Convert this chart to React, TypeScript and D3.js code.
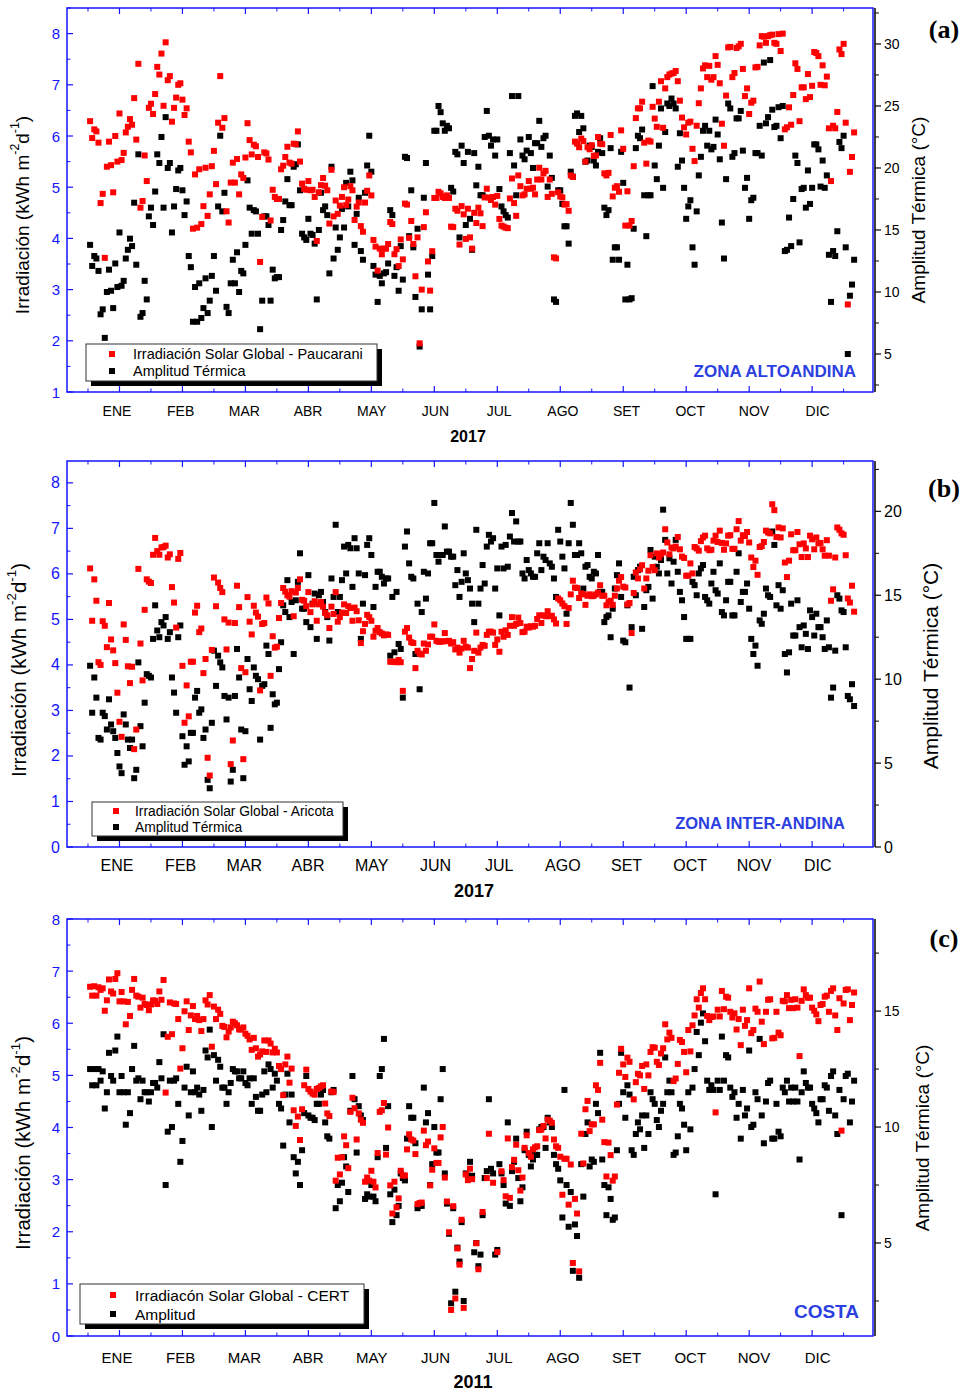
import React from 'react';
import * as d3 from 'd3';

const months = ['ENE', 'FEB', 'MAR', 'ABR', 'MAY', 'JUN', 'JUL', 'AGO', 'SET', 'OCT', 'NOV', 'DIC'];

// (a) Paucarani 2017, daily values from day 1
const irrA = [
  6.29, 5.96, 6.13, 6.09, 5.87, 4.69, 4.87, 3.62, 5.40, 5.89, 5.43, 4.90, 6.00, 5.50, 6.44,
  5.53, 5.67, 6.07, 6.18, 6.33, 6.22, 6.74, 5.93, 7.41, 4.60, 4.73, 5.62, 5.12, 6.55, 6.63,
  6.43, 6.82, 7.35, 7.20, 7.61, 6.59, 7.83, 7.09, 7.17, 6.28, 6.55, 6.75, 7.00, 7.03, 6.71,
  6.41, 6.54, 5.89, 5.68, 4.19, 5.25, 4.21, 5.35, 4.28, 4.63, 5.38, 4.44, 4.86, 5.41, 5.71,
  5.06, 6.26, 7.17, 6.16, 6.35, 4.53, 4.31, 5.09, 5.48, 5.09, 5.55, 4.86, 5.25, 5.18, 5.58,
  6.25, 5.92, 5.64, 5.83, 5.80, 5.59, 3.54, 4.42, 5.68, 5.66, 5.54, 4.35, 4.95, 4.81, 4.77,
  4.77, 5.35, 5.42, 5.59, 5.79, 5.48, 5.46, 5.85, 5.84, 6.09, 5.50, 5.07, 4.97, 4.95, 5.12,
  4.94, 4.95, 4.81, 3.95, 4.90, 5.04, 5.18, 5.03, 4.94, 4.29, 5.34, 4.43, 4.74, 4.48, 4.64,
  4.81, 5.00, 4.65, 4.76, 5.02, 4.94, 4.36, 4.62, 4.70, 4.24, 4.13, 4.70, 4.93, 5.23, 4.84,
  3.97, 3.84, 3.37, 3.80, 3.69, 3.80, 3.80, 3.89, 4.32, 4.28, 3.69, 3.79, 3.46, 3.98, 3.59,
  4.68, 4.66, 4.01, 4.34, 3.89, 3.26, 4.02, 1.95, 3.00, 4.22, 4.51, 3.55, 2.98, 3.75, 4.79,
  4.79, 4.91, 4.88, 4.81, 4.79, 4.84, 4.79, 4.23, 4.22, 4.58, 4.54, 3.88, 4.63, 4.47, 3.99,
  4.58, 4.02, 3.80, 4.50, 4.30, 4.60, 4.49, 4.24, 4.80, 4.97, 4.80, 4.75, 4.81, 4.66, 4.83,
  4.38, 4.25, 4.23, 4.21, 4.20, 4.78, 5.17, 4.69, 4.44, 5.23, 5.02, 4.84, 4.86, 4.97, 5.12,
  4.97, 4.99, 4.86, 5.15, 5.38, 5.15, 5.27, 5.32, 4.81, 5.15, 4.87, 3.63, 3.61, 4.90, 4.82,
  4.80, 4.66, 4.67, 4.54, 5.23, 5.20, 5.89, 5.85, 5.78, 5.95, 5.90, 5.50, 5.78, 5.74, 5.82,
  5.61, 5.62, 5.98, 5.85, 5.84, 5.27, 5.23, 5.28, 6.02, 4.82, 4.99, 5.02, 4.91, 6.11, 5.75,
  4.25, 4.92, 4.25, 4.34, 5.41, 6.35, 6.54, 6.54, 6.67, 5.87, 5.46, 5.91, 5.89, 6.57, 6.34,
  6.18, 6.67, 7.07, 6.16, 6.93, 7.15, 7.20, 7.22, 7.23, 7.27, 7.07, 6.69, 6.36, 6.17, 6.03,
  6.26, 6.28, 5.75, 5.51, 6.20, 6.64, 6.93, 7.32, 7.38, 7.15, 7.37, 7.10, 7.15, 7.56, 7.39,
  7.03, 6.24, 5.81, 6.79, 7.73, 7.74, 7.15, 7.23, 7.72, 7.75, 7.80, 7.31, 6.78, 6.93, 6.43,
  6.65, 6.69, 7.34, 7.35, 7.77, 7.95, 7.94, 7.82, 7.95, 7.97, 7.98, 7.82, 7.80, 7.99, 7.66,
  8.00, 6.13, 6.17, 6.56, 6.22, 6.80, 7.42, 7.31, 6.29, 6.95, 6.95, 6.72, 7.21, 6.76, 6.98,
  7.64, 7.62, 7.56, 7.00, 7.38, 6.99, 7.16, 6.15, 5.12, 6.20, 6.15, 6.47, 7.69, 7.60, 7.80,
  6.26, 2.71, 5.30, 5.59, 6.07,
];
const ampA = [
  13.8, 12.1, 12.9, 12.7, 11.7, 8.2, 8.6, 6.3, 10.0, 11.8, 10.1, 8.7, 12.3, 10.4, 14.8,
  10.5, 10.9, 12.7, 13.4, 14.3, 13.7, 17.2, 12.2, 21.1, 8.0, 8.3, 10.9, 9.4, 16.1, 16.8,
  15.4, 18.1, 21.1, 20.4, 22.5, 16.8, 24.1, 20.0, 20.4, 14.8, 16.9, 18.3, 19.8, 20.0, 18.2,
  16.2, 17.3, 12.9, 12.0, 7.6, 10.4, 7.6, 10.7, 7.9, 8.7, 11.1, 8.3, 9.3, 11.3, 12.9,
  10.1, 16.9, 22.6, 16.5, 18.0, 8.8, 8.3, 10.7, 12.6, 10.7, 13.2, 10.0, 11.7, 11.5, 13.8,
  19.0, 16.8, 14.7, 16.6, 16.5, 14.7, 7.0, 9.3, 16.1, 16.1, 15.4, 9.3, 11.8, 11.1, 11.2,
  11.2, 15.0, 15.8, 17.3, 19.1, 17.0, 17.0, 20.1, 20.3, 21.9, 18.2, 14.7, 14.4, 14.2, 15.9,
  14.7, 14.6, 13.9, 9.4, 15.0, 18.0, 16.6, 16.9, 16.2, 11.5, 20.1, 12.7, 15.2, 13.4, 14.4,
  16.7, 15.2, 18.8, 16.9, 19.7, 19.0, 13.8, 16.3, 17.6, 13.3, 12.6, 18.0, 20.2, 22.6, 19.7,
  12.1, 11.4, 9.2, 11.3, 10.7, 11.5, 11.6, 12.3, 16.6, 16.2, 11.3, 12.0, 10.1, 13.7, 11.0,
  20.9, 20.8, 14.5, 18.2, 13.6, 9.6, 15.1, 5.6, 8.6, 17.6, 20.4, 11.4, 8.6, 12.9, 23.0,
  23.0, 25.0, 24.5, 23.6, 23.0, 23.4, 23.2, 18.4, 18.1, 21.3, 21.1, 14.4, 21.8, 20.4, 15.4,
  21.3, 15.9, 13.4, 21.2, 18.6, 20.1, 17.8, 17.8, 22.5, 24.6, 22.6, 21.8, 22.3, 21.0, 22.3,
  18.3, 16.9, 16.5, 16.2, 16.0, 21.2, 25.8, 20.2, 17.8, 25.8, 22.3, 21.0, 20.7, 21.4, 22.5,
  21.2, 20.0, 22.0, 22.0, 23.8, 21.7, 22.4, 22.6, 18.5, 21.0, 19.2, 9.4, 9.2, 18.2, 18.2,
  17.1, 15.3, 15.3, 13.9, 19.7, 19.3, 24.2, 24.4, 22.9, 24.2, 23.2, 20.5, 20.6, 21.8, 21.7,
  20.6, 20.2, 21.3, 22.4, 21.2, 16.8, 16.2, 16.6, 21.6, 12.6, 13.6, 13.6, 12.6, 21.3, 18.8,
  9.4, 12.2, 9.4, 9.5, 15.1, 21.6, 22.6, 22.4, 23.1, 17.8, 14.5, 17.8, 17.8, 26.6, 20.2,
  19.1, 21.8, 24.8, 18.4, 22.9, 25.2, 25.0, 25.6, 25.2, 24.8, 20.1, 22.8, 20.6, 18.4, 15.9,
  16.9, 17.4, 13.6, 12.2, 16.5, 19.4, 20.9, 23.0, 23.4, 21.8, 23.0, 21.5, 21.7, 23.9, 22.7,
  20.7, 15.6, 12.7, 19.1, 25.2, 24.8, 20.9, 21.2, 24.0, 24.0, 24.6, 21.4, 18.4, 19.2, 15.9,
  17.4, 17.6, 21.2, 21.2, 23.4, 21.0, 28.5, 23.6, 24.1, 28.7, 24.7, 23.3, 23.4, 24.9, 22.4,
  25.0, 13.3, 13.4, 16.0, 13.7, 17.5, 21.0, 20.4, 14.0, 18.3, 18.4, 16.8, 19.8, 17.1, 18.4,
  21.9, 21.9, 21.5, 18.5, 20.6, 18.4, 19.4, 13.0, 9.2, 13.3, 12.9, 14.9, 22.1, 21.6, 22.6,
  13.6, 5.0, 9.7, 10.6, 12.6,
];

// (b) Aricota 2017
const irrB = [
  6.12, 4.97, 5.88, 5.41, 4.06, 4.00, 4.96, 4.86, 4.39, 5.36, 4.56, 4.32, 4.04, 3.39, 2.75,
  2.42, 4.89, 4.55, 3.97, 3.60, 3.96, 2.15, 2.58, 6.11, 4.47, 3.66, 5.21, 5.88, 5.83, 5.80,
  6.42, 6.79, 6.50, 6.42, 6.58, 6.59, 6.62, 6.36, 6.43, 5.71, 5.37, 4.82, 6.33, 6.46, 3.98,
  2.73, 3.55, 2.87, 4.07, 4.07, 5.15, 5.30, 4.72, 4.80, 3.82, 4.13, 1.96, 1.57, 4.33, 5.92,
  5.29, 5.81, 5.69, 5.60, 5.00, 4.34, 4.93, 1.82, 2.34, 4.92, 5.74, 5.27, 3.93, 1.93, 3.84,
  5.49, 4.95, 4.67, 5.30, 5.15, 5.06, 3.44, 4.90, 4.92, 5.48, 5.35, 3.76, 4.63, 4.38, 4.40,
  5.03, 5.36, 5.69, 5.61, 5.53, 5.50, 5.62, 5.07, 5.59, 5.69, 5.88, 5.43, 5.41, 5.29, 5.60,
  5.16, 5.33, 5.40, 4.97, 5.33, 5.38, 5.28, 5.14, 5.09, 4.81, 5.28, 5.12, 5.60, 4.95, 5.05,
  5.15, 5.33, 5.14, 5.29, 5.25, 4.97, 5.26, 5.18, 4.98, 4.48, 4.74, 4.90, 5.10, 5.05, 4.97,
  4.62, 4.75, 4.81, 4.72, 4.69, 4.65, 4.67, 4.66, 4.07, 4.07, 4.07, 4.06, 4.11, 4.06, 3.43,
  4.73, 4.81, 4.60, 4.50, 4.48, 3.93, 4.31, 4.25, 4.23, 4.47, 4.31, 4.45, 4.62, 4.62, 4.89,
  4.53, 4.51, 4.51, 4.52, 4.70, 4.52, 4.53, 4.47, 4.50, 4.34, 4.38, 4.27, 4.36, 4.53, 4.40,
  4.38, 3.93, 4.13, 4.31, 4.71, 4.27, 4.38, 4.44, 4.42, 4.66, 4.73, 4.73, 4.71, 4.44, 4.56,
  4.29, 4.73, 4.62, 4.76, 4.66, 4.86, 5.05, 4.86, 4.90, 5.04, 4.92, 4.72, 4.73, 4.84, 4.82,
  4.85, 4.84, 4.86, 5.01, 5.09, 4.92, 5.09, 5.07, 5.18, 5.07, 5.08, 5.00, 4.91, 5.46, 5.42,
  5.35, 5.29, 4.90, 5.25, 5.55, 5.85, 5.70, 5.69, 5.47, 5.57, 5.55, 5.32, 5.52, 5.55, 5.51,
  5.52, 5.55, 5.59, 5.75, 5.52, 5.52, 5.31, 5.38, 5.41, 5.32, 5.52, 5.68, 5.85, 5.93, 5.72,
  5.70, 5.33, 5.36, 4.70, 5.58, 6.03, 5.90, 6.10, 6.19, 5.68, 5.90, 6.07, 6.41, 6.15, 6.08,
  6.45, 6.36, 6.43, 6.47, 6.98, 6.69, 6.43, 6.58, 6.56, 6.60, 6.81, 6.54, 6.38, 6.35, 5.96,
  5.96, 6.23, 6.01, 6.59, 6.56, 6.51, 6.72, 6.80, 6.84, 6.56, 6.52, 6.53, 6.73, 6.84, 6.70,
  6.95, 6.68, 6.53, 6.67, 6.84, 6.85, 6.55, 6.55, 6.98, 7.16, 6.73, 6.85, 6.83, 6.92, 6.69,
  6.36, 6.15, 6.29, 5.98, 6.59, 6.61, 6.70, 6.95, 6.91, 6.89, 7.53, 7.40, 6.81, 7.02, 6.80,
  7.00, 6.25, 5.93, 6.29, 6.87, 6.52, 6.52, 6.92, 6.65, 6.37, 6.67, 6.56, 6.37, 6.84, 6.76,
  6.54, 6.80, 6.67, 6.68, 6.54, 6.40, 6.74, 6.40, 5.41, 5.66, 6.36, 7.02, 6.97, 6.89, 6.86,
  6.41, 5.46, 5.37, 5.74, 5.17,
];
const ampB = [
  10.8, 8.0, 10.1, 8.9, 6.5, 6.4, 8.0, 7.8, 7.0, 8.8, 7.3, 6.9, 6.5, 5.6, 4.8,
  4.4, 7.9, 7.3, 6.4, 5.9, 6.4, 4.1, 4.6, 11.0, 7.2, 6.0, 8.6, 10.3, 10.2, 10.1,
  12.4, 14.4, 12.9, 12.5, 13.4, 13.2, 13.7, 12.4, 12.8, 10.1, 9.2, 8.0, 12.5, 13.2, 6.6,
  4.9, 6.0, 5.1, 6.8, 6.8, 8.9, 9.3, 8.0, 8.2, 6.5, 7.0, 4.0, 3.5, 7.4, 11.7,
  9.6, 11.4, 11.0, 10.7, 9.0, 7.6, 8.9, 3.9, 4.6, 9.0, 11.8, 10.1, 7.0, 4.1, 6.9,
  11.2, 9.4, 8.7, 10.7, 10.2, 10.0, 6.4, 9.6, 9.7, 12.0, 11.5, 7.1, 9.1, 8.5, 8.6,
  10.6, 12.2, 14.4, 14.0, 15.9, 13.7, 14.6, 11.5, 14.7, 15.8, 17.5, 14.2, 14.2, 13.4, 16.2,
  13.1, 14.5, 15.1, 12.4, 15.0, 15.2, 14.6, 14.0, 13.7, 12.3, 16.0, 14.9, 19.2, 14.0, 14.9,
  15.9, 17.9, 16.3, 18.0, 17.8, 15.5, 18.4, 17.8, 16.3, 12.4, 14.5, 16.2, 18.0, 18.4, 17.4,
  14.3, 15.5, 16.4, 16.4, 16.1, 15.7, 16.0, 16.0, 11.4, 14.9, 11.6, 15.2, 12.1, 11.8, 8.9,
  17.9, 18.8, 16.9, 16.1, 16.0, 11.5, 14.5, 9.4, 14.0, 16.4, 14.8, 16.3, 18.1, 18.1, 20.5,
  17.4, 17.0, 17.4, 17.4, 19.1, 17.6, 17.6, 17.3, 17.3, 15.6, 16.5, 14.9, 15.8, 17.5, 16.3,
  15.9, 15.4, 14.5, 13.4, 18.9, 14.5, 15.4, 16.8, 15.7, 17.9, 18.6, 18.2, 18.4, 15.4, 16.6,
  13.8, 17.9, 16.6, 18.0, 16.7, 18.5, 19.9, 18.2, 19.4, 18.2, 18.2, 16.3, 16.0, 17.1, 16.5,
  16.3, 16.1, 16.1, 17.5, 18.1, 16.5, 17.3, 17.1, 18.1, 16.9, 16.7, 16.0, 14.9, 18.9, 18.2,
  17.3, 16.6, 13.9, 18.1, 20.5, 19.2, 17.4, 17.4, 18.1, 17.5, 15.4, 16.7, 16.8, 16.1, 16.0,
  16.4, 16.3, 17.4, 15.2, 15.2, 13.4, 13.7, 13.8, 12.5, 14.2, 15.4, 16.2, 16.9, 14.9, 12.3,
  12.2, 14.4, 9.5, 13.1, 16.1, 15.0, 16.5, 16.7, 13.0, 14.3, 15.3, 15.5, 17.7, 14.8, 17.3,
  16.7, 16.3, 17.1, 20.1, 18.3, 16.3, 17.2, 15.7, 17.0, 18.3, 16.4, 15.2, 14.7, 13.7, 12.4,
  12.4, 12.4, 15.8, 15.6, 15.0, 16.3, 16.6, 16.8, 14.9, 14.7, 14.5, 15.7, 16.4, 15.3, 15.1,
  16.9, 14.0, 13.8, 14.7, 15.8, 15.8, 13.8, 13.8, 16.4, 17.5, 14.6, 15.2, 15.2, 15.7, 14.2,
  12.4, 11.5, 12.0, 10.8, 13.5, 13.3, 13.9, 15.4, 15.0, 14.9, 18.8, 18.0, 14.4, 15.6, 14.2,
  15.3, 11.5, 10.4, 11.6, 14.5, 12.6, 12.6, 14.7, 13.1, 11.9, 13.2, 12.7, 11.8, 14.1, 13.7,
  12.6, 13.9, 13.1, 13.1, 12.5, 11.8, 13.5, 11.9, 8.9, 9.5, 11.7, 15.0, 14.8, 14.1, 14.0,
  11.9, 9.0, 8.8, 9.7, 8.4,
];

// (c) CERT 2011 (null = no reading)
const irrC = [
  6.70, 6.53, 6.71, 6.53, 6.69, 6.64, 6.67, 6.24, 6.44, 6.84, 6.61, 6.57, 6.85, 6.96, 6.42,
  6.60, 6.42, 5.98, 6.41, 6.14, 6.64, 6.85, 6.53, 6.51, 6.30, 6.49, 6.37, 6.35, 6.25, 6.36,
  6.44, 6.43, 6.37, 6.61, 6.45, 6.83, 4.67, 5.74, 6.40, 5.79, 6.38, 6.37, 6.08, 5.13, 5.52,
  6.23, 6.42, 5.87, 6.15, 6.33, 6.08, 6.14, 6.06, 5.85, 6.08, 6.44, 6.36, 6.54, 5.55, 6.32,
  6.08, 6.26, 6.18, 5.95, 5.93, 5.73, 5.84, 5.92, 6.03, 6.00, 5.96, 5.88, 5.88, 5.92, 5.80,
  5.76, 5.69, 5.49, 5.72, 5.52, 5.36, 5.40, 5.46, 5.67, 5.45, 5.67, 5.61, 5.44, 5.51, 5.44,
  5.18, 5.12, 4.62, 5.21, 5.36, 4.86, 5.13, 4.33, 4.03, 4.21, 3.76, 4.35, 4.81, 5.11, 4.74,
  4.69, 4.65, 4.63, 4.74, 4.76, 4.79, 4.81, 4.46, 4.27, 4.22, 4.69, 4.68, 2.98, 3.42, 3.10,
  3.43, 3.83, 3.66, 3.22, 4.30, 4.57, 4.37, 3.77, 4.27, 4.15, 4.09, 2.96, 3.04, 2.98, 3.17,
  2.96, 2.85, 3.51, 4.30, 4.33, 4.47, 3.48, 4.00, 2.89, 2.35, 2.96, 2.47, 2.64, 3.17, 3.08,
  3.08, 3.58, 3.87, 3.77, 3.75, 3.49, 2.53, 2.55, 2.56, 3.94, 3.66, 3.73, 2.89, 3.19, 3.60,
  3.32, 3.32, 3.81, 4.01, 3.04, 2.58, 1.99, 0.50, 2.49, 0.72, 1.68, 1.37, 2.23, 0.54, 3.10,
  2.99, 3.21, 3.01, null, 1.78, 1.28, null, 2.38, null, 3.03, 3.88, null, 2.94, null, 1.61,
  null, 3.16, 2.99, 2.68, 3.79, 2.65, 3.24, 3.38, 3.67, 3.18, 2.79, 3.04, 3.61, 3.85, 3.51,
  3.44, 3.58, 3.62, 3.64, 3.95, 3.96, 4.03, 3.79, 4.15, 4.13, 4.09, 3.77, 3.64, 3.61, 3.44,
  2.71, 3.40, 3.40, 2.52, 3.29, 1.40, 2.63, 2.35, 1.24, 3.88, 3.31, 4.35, 4.51, 3.93, 4.06,
  4.06, 4.81, 4.72, 5.24, 4.15, 3.72, 3.06, 3.71, 3.47, 2.98, 3.06, 4.44, 5.05, 5.51, 5.21,
  4.97, 5.34, 5.26, null, 4.54, 4.87, 5.03, 5.00, 5.18, 4.74, 5.21, 5.00, 5.45, 5.54, 5.53,
  5.26, 5.20, 5.42, 5.52, 5.98, 5.69, 5.82, 5.72, 4.89, 4.94, 5.22, 5.68, 5.64, 5.45, 5.06,
  5.87, 5.46, 5.96, 6.15, 6.46, 6.30, 6.58, 6.67, 6.46, 6.14, 6.06, 6.12, 6.13, 4.29, 6.26,
  6.13, 6.62, 6.27, 6.51, 6.49, 6.22, 6.11, 6.19, 5.88, 6.08, 5.58, 6.26, 5.95, 6.06, 6.67,
  5.81, 5.87, 6.28, 6.22, 6.80, 6.03, 5.60, 6.22, 6.45, 6.46, 5.71, 5.72, 6.22, 5.82, 5.77,
  6.43, 6.42, 6.54, 6.29, 6.45, 6.29, 6.46, 6.30, 5.37, 6.43, 6.65, 6.54, 6.49, 6.49, 6.30,
  6.24, 6.17, 6.04, 6.35, 6.37, 6.51, 6.53, 6.22, 6.62, 6.67, 6.15, 5.87, 6.48, 3.94, 6.38,
  6.64, 6.65, 6.06, 6.35, 6.59,
];
const ampC = [
  12.5, 11.8, 12.5, 11.8, 12.5, 12.0, 12.4, 10.8, 11.5, 13.2, 12.2, 12.0, 13.3, 13.9, 11.5,
  12.2, 11.5, 10.1, 11.5, 10.6, 12.5, 13.5, 12.0, 12.1, 11.2, 12.0, 11.5, 11.5, 11.1, 11.5,
  11.9, 11.9, 11.7, 12.8, 12.1, 14.0, 7.5, 9.8, 12.0, 10.0, 12.0, 12.1, 11.0, 8.5, 9.4,
  11.7, 12.6, 10.5, 11.5, 12.4, 11.5, 11.7, 11.4, 10.7, 11.6, 13.3, 13.0, 14.2, 10.0, 13.1,
  12.0, 12.9, 12.6, 11.7, 11.7, 11.0, 11.5, 11.9, 12.5, 12.4, 12.4, 12.1, 12.1, 12.4, 11.9,
  11.8, 12.1, 11.0, 12.1, 11.3, 10.7, 10.7, 11.4, 12.4, 11.5, 12.7, 12.5, 11.7, 12.3, 12.0,
  11.0, 10.8, 9.2, 11.4, 12.3, 10.2, 11.4, 8.7, 8.0, 8.5, 7.5, 9.0, 10.6, 12.2, 10.5,
  10.4, 10.4, 10.3, 11.0, 11.0, 11.4, 11.6, 10.2, 9.6, 9.5, 11.5, 11.6, 6.5, 7.5, 6.8,
  7.6, 8.7, 8.3, 7.2, 10.7, 12.2, 11.2, 8.9, 10.9, 10.5, 10.3, 6.9, 7.1, 7.0, 7.5,
  7.0, 6.8, 8.7, 12.2, 12.5, 13.8, 9.1, 10.9, 7.1, 5.9, 7.3, 6.2, 6.6, 8.0, 7.8,
  7.7, 9.5, 10.9, 10.4, 10.4, 9.3, 6.5, 6.6, 6.6, 11.7, 10.2, 10.6, 7.5, 8.4, 10.0,
  8.9, 8.9, 11.2, 12.5, 8.0, 6.7, 5.4, 2.4, 6.5, 2.9, 4.8, 4.2, 5.9, 2.5, 8.0,
  7.9, 8.5, 7.9, 4.6, 5.0, 4.0, 4.5, 6.2, 7.8, 8.1, 11.2, 8.2, 8.0, 4.5, 4.7,
  8.4, 8.0, 7.5, 6.7, 10.2, 6.6, 8.1, 8.5, 9.5, 7.8, 6.8, 7.4, 9.0, 9.8, 8.8,
  8.3, 8.6, 8.8, 8.8, 9.9, 10.0, 10.0, 9.1, 10.4, 10.2, 10.0, 8.8, 8.4, 8.2, 7.7,
  6.1, 11.6, 7.5, 5.7, 7.2, 3.8, 5.8, 5.3, 3.5, 8.4, 7.0, 9.7, 10.2, 8.3, 8.6,
  8.5, 11.0, 10.6, 13.2, 8.6, 7.5, 6.2, 7.4, 6.9, 6.0, 6.1, 9.0, 11.0, 13.2, 11.5,
  10.4, 11.8, 11.4, 9.0, 8.8, 9.7, 10.2, 9.9, 10.5, 9.1, 10.5, 9.7, 11.5, 11.2, 11.0,
  10.3, 10.0, 10.7, 11.0, 13.0, 11.5, 12.0, 11.5, 8.8, 8.9, 9.6, 11.0, 10.8, 10.1, 9.0,
  11.5, 9.9, 11.7, 12.5, 14.1, 13.1, 14.5, 14.9, 13.7, 12.0, 11.6, 11.8, 11.6, 7.1, 12.0,
  11.6, 13.9, 12.0, 13.1, 13.0, 11.7, 11.3, 11.5, 10.4, 11.0, 9.5, 11.6, 10.5, 10.8, 13.3,
  10.0, 10.1, 11.5, 11.2, 13.8, 10.5, 9.3, 11.1, 11.9, 12.0, 9.5, 9.5, 11.0, 9.8, 9.6,
  11.7, 11.5, 12.0, 11.1, 11.7, 11.1, 11.7, 11.1, 8.6, 11.5, 12.4, 11.9, 11.7, 11.7, 11.0,
  10.8, 10.6, 10.2, 11.2, 11.2, 11.8, 11.7, 10.7, 12.2, 12.4, 10.5, 9.7, 11.6, 6.2, 11.2,
  12.2, 12.3, 10.2, 11.1, 12.0,
];

const BLUE = '#1414ff';
const ZONE = '#2c3fe0';
const SANS = '"Liberation Sans", Arial, sans-serif';
const SERIF = '"Liberation Serif", "Times New Roman", serif';

type PanelCfg = {
  y0: number; y1: number;
  left: [number, number]; leftMajor: number[]; leftMinor: number[];
  right: [number, number]; rightMajor: number[]; rightMinor: number[];
  irr: (number | null)[]; amp: (number | null)[];
  tickFont: number; rightFont: number; monthFont: number; monthY: number;
  year: string; yearX: number; yearY: number; yearFont: number;
  leftTitle: [number, number, number]; rightTitle: [number, number, number];
  legend: { x: number; y: number; w: number; h: number; font: number; mx: number; tx: number; r1: number; r2: number; l1: string; l2: string };
  zone: string; zoneX: number; zoneY: number; zoneFont: number;
  letter: string; letterY: number;
};

const x = d3.scaleLinear().domain([-10, 374]).range([67, 873]);
const xMajor = d3.range(15, 360, 30);
const xMinor = d3.range(0, 375, 30);
// month names sit a little right of their ticks as the year goes on
const monthX = (i: number) => x(xMajor[i]) - 2.5 + i * 0.73;

function Panel({ c }: { c: PanelCfg }) {
  const yL = d3.scaleLinear().domain(c.left).range([c.y1, c.y0]);
  const yR = d3.scaleLinear().domain(c.right).range([c.y1, c.y0]);
  const lg = c.legend;
  const s = 6;
  const tf = c.leftTitle[2];
  return (
    <g>
      {/* frame */}
      <rect x={67} y={c.y0} width={806} height={c.y1 - c.y0} fill="none" stroke={BLUE} strokeWidth={1.5} />
      {xMajor.map(d => (
        <g key={'M' + d}>
          <line x1={x(d)} x2={x(d)} y1={c.y1} y2={c.y1 - 6} stroke={BLUE} strokeWidth={1.2} />
          <line x1={x(d)} x2={x(d)} y1={c.y0} y2={c.y0 + 6} stroke={BLUE} strokeWidth={1.2} />
        </g>
      ))}
      {xMinor.map(d => (
        <g key={'m' + d}>
          <line x1={x(d)} x2={x(d)} y1={c.y1} y2={c.y1 - 3.5} stroke={BLUE} strokeWidth={1} />
          <line x1={x(d)} x2={x(d)} y1={c.y0} y2={c.y0 + 3.5} stroke={BLUE} strokeWidth={1} />
        </g>
      ))}
      {months.map((m, i) => (
        <text key={m} x={monthX(i)} y={c.monthY} fontSize={c.monthFont} fontFamily={SANS}
          textAnchor="middle" dominantBaseline="central">{m}</text>
      ))}
      <text x={c.yearX} y={c.yearY} fontSize={c.yearFont} fontWeight="bold" fontFamily={SANS}
        textAnchor="middle" dominantBaseline="central">{c.year}</text>

      {/* left axis */}
      {c.leftMajor.map(v => (
        <g key={'L' + v}>
          <line x1={67} x2={73} y1={yL(v)} y2={yL(v)} stroke={BLUE} strokeWidth={1.2} />
          <text x={60} y={yL(v)} fontSize={c.tickFont} fill={BLUE} fontFamily={SANS}
            textAnchor="end" dominantBaseline="central">{v}</text>
        </g>
      ))}
      {c.leftMinor.map(v => (
        <line key={'l' + v} x1={67} x2={70.5} y1={yL(v)} y2={yL(v)} stroke={BLUE} strokeWidth={1} />
      ))}
      <text transform={`translate(${c.leftTitle[0]},${c.leftTitle[1]}) rotate(-90)`} fontSize={tf}
        fontFamily={SANS} textAnchor="middle" dominantBaseline="central">
        Irradiación (kWh m<tspan dy={-tf * 0.35} fontSize={tf * 0.65}>-2</tspan>
        <tspan dy={tf * 0.35}>d</tspan>
        <tspan dy={-tf * 0.35} fontSize={tf * 0.65}>-1</tspan>
        <tspan dy={tf * 0.35}>)</tspan>
      </text>

      {/* right axis */}
      <line x1={875} x2={875} y1={c.y0} y2={c.y1} stroke="#000" strokeWidth={1.5} />
      {c.rightMajor.map(v => (
        <g key={'R' + v}>
          <line x1={875} x2={881} y1={yR(v)} y2={yR(v)} stroke="#000" strokeWidth={1.2} />
          <text x={884} y={yR(v)} fontSize={c.rightFont} fontFamily={SANS} dominantBaseline="central">{v}</text>
        </g>
      ))}
      {c.rightMinor.map(v => (
        <line key={'r' + v} x1={875} x2={879} y1={yR(v)} y2={yR(v)} stroke="#000" strokeWidth={1} />
      ))}
      <text transform={`translate(${c.rightTitle[0]},${c.rightTitle[1]}) rotate(-90)`} fontSize={c.rightTitle[2]}
        fontFamily={SANS} textAnchor="middle" dominantBaseline="central">Amplitud Térmica (°C)</text>

      {/* points */}
      {c.amp.map((v, i) => v == null ? null : (
        <rect key={'b' + i} x={x(i + 1) - s / 2} y={yR(v) - s / 2} width={s} height={s} fill="#000" />
      ))}
      {c.irr.map((v, i) => v == null ? null : (
        <rect key={'r' + i} x={x(i + 1) - s / 2} y={yL(v) - s / 2} width={s} height={s} fill="#ff0000" />
      ))}

      {/* legend */}
      <rect x={lg.x + 5} y={lg.y + 5} width={lg.w} height={lg.h} fill="#000" />
      <rect x={lg.x} y={lg.y} width={lg.w} height={lg.h} fill="#fff" stroke="#333" strokeWidth={1} />
      <rect x={lg.mx - 3} y={lg.r1 - 3} width={6} height={6} fill="#ff0000" />
      <rect x={lg.mx - 3} y={lg.r2 - 3} width={6} height={6} fill="#000" />
      <text x={lg.tx} y={lg.r1} fontSize={lg.font} fontFamily={SANS} dominantBaseline="central">{lg.l1}</text>
      <text x={lg.tx} y={lg.r2} fontSize={lg.font} fontFamily={SANS} dominantBaseline="central">{lg.l2}</text>

      <text x={c.zoneX} y={c.zoneY} fontSize={c.zoneFont} fontWeight="bold" fill={ZONE} fontFamily={SANS}
        textAnchor="end">{c.zone}</text>
      <text x={944} y={c.letterY} fontSize={26} fontWeight="bold" fontFamily={SERIF} textAnchor="middle">{c.letter}</text>
    </g>
  );
}

const panels: PanelCfg[] = [
  {
    y0: 8, y1: 392,
    left: [1, 8.5], leftMajor: d3.range(1, 9), leftMinor: d3.range(1.5, 8.6, 1),
    right: [1.935, 32.9], rightMajor: d3.range(5, 31, 5), rightMinor: d3.range(2.5, 33, 5),
    irr: irrA, amp: ampA,
    tickFont: 15, rightFont: 14, monthFont: 14, monthY: 411,
    year: '2017', yearX: 468, yearY: 436, yearFont: 16,
    leftTitle: [22, 215, 19], rightTitle: [918, 210, 19],
    legend: { x: 86, y: 344, w: 291, h: 37, font: 14.5, mx: 112, tx: 133, r1: 354, r2: 371, l1: 'Irradiación Solar Global - Paucarani', l2: 'Amplitud Térmica' },
    zone: 'ZONA ALTOANDINA', zoneX: 856, zoneY: 377, zoneFont: 17,
    letter: '(a)', letterY: 38,
  },
  {
    y0: 461, y1: 847,
    left: [0, 8.48], leftMajor: d3.range(0, 9), leftMinor: d3.range(0.5, 8.1, 1),
    right: [0, 23], rightMajor: d3.range(0, 21, 5), rightMinor: d3.range(2.5, 23, 5),
    irr: irrB, amp: ampB,
    tickFont: 16, rightFont: 16, monthFont: 16, monthY: 865,
    year: '2017', yearX: 474, yearY: 891, yearFont: 18,
    leftTitle: [18, 670, 20.5], rightTitle: [930, 666, 21],
    legend: { x: 92, y: 802, w: 251, h: 34, font: 13.8, mx: 116, tx: 135, r1: 811, r2: 827, l1: 'Irradiación Solar Global - Aricota', l2: 'Amplitud Térmica' },
    zone: 'ZONA INTER-ANDINA', zoneX: 845, zoneY: 829, zoneFont: 16.5,
    letter: '(b)', letterY: 497,
  },
  {
    y0: 919, y1: 1336,
    left: [0, 8], leftMajor: d3.range(0, 9), leftMinor: d3.range(0.5, 8, 1),
    right: [0.99, 18.97], rightMajor: [5, 10, 15], rightMinor: [2.5, 7.5, 12.5, 17.5],
    irr: irrC, amp: ampC,
    tickFont: 15, rightFont: 14, monthFont: 15, monthY: 1357,
    year: '2011', yearX: 473, yearY: 1382, yearFont: 18,
    leftTitle: [22, 1143, 20.5], rightTitle: [922, 1138, 19],
    legend: { x: 80, y: 1284, w: 284, h: 40, font: 15.5, mx: 113, tx: 135, r1: 1295, r2: 1314, l1: 'Irradiacón Solar Global - CERT', l2: 'Amplitud' },
    zone: 'COSTA', zoneX: 859, zoneY: 1318, zoneFont: 19,
    letter: '(c)', letterY: 947,
  },
];

export default function App() {
  return (
    <svg width={968} height={1393} style={{ position: 'absolute', left: 0, top: 0, background: '#fff' }}>
      {panels.map((c, i) => <Panel key={i} c={c} />)}
    </svg>
  );
}
